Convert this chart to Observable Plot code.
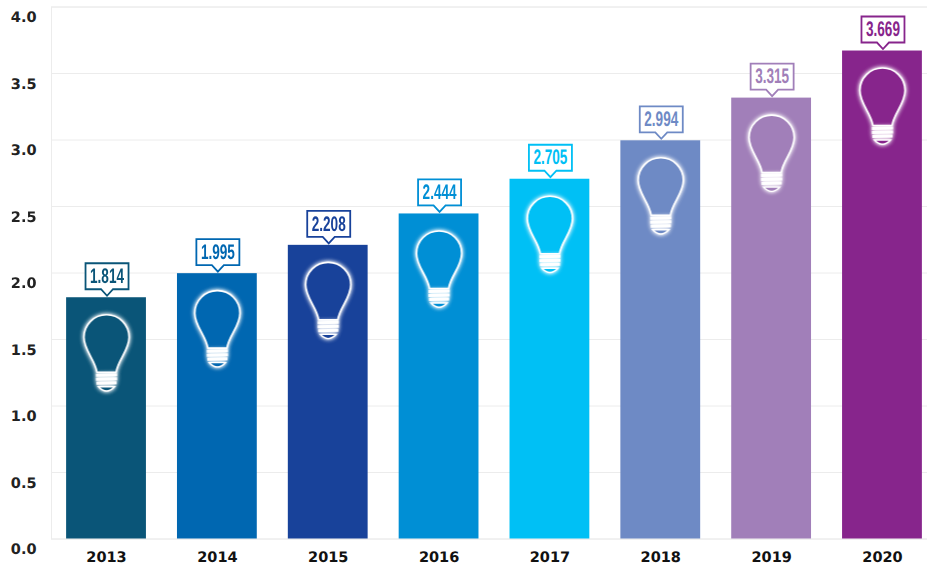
<!DOCTYPE html>
<html>
<head>
<meta charset="utf-8">
<script src="https://cdn.jsdelivr.net/npm/d3@7"></script>
<script src="https://cdn.jsdelivr.net/npm/@observablehq/plot@0.6"></script>
<style>
html,body{margin:0;padding:0;background:#fff;overflow:hidden}
svg{display:block}
svg text{text-rendering:geometricPrecision}
</style>
</head>
<body>
<div id="chart"></div>
<script>
const years = ["2013","2014","2015","2016","2017","2018","2019","2020"];
const values = [1.814,1.995,2.208,2.444,2.705,2.994,3.315,3.669];
const labels = ["1.814","1.995","2.208","2.444","2.705","2.994","3.315","3.669"];
const colors = ["#0a5578","#0067b1","#18429a","#008fd5","#00c0f5","#6e8ac5","#a17fb9","#87258c"];
const yTicks = [0,0.5,1,1.5,2,2.5,3,3.5,4];
const data = years.map((year,i)=>({year,value:values[i],label:labels[i]}));

const bulbShape = {draw(c){
  c.moveTo(-9.5,35);
  c.bezierCurveTo(-11,23,-22.5,13,-22.5,0);
  c.arc(0,0,22.5,Math.PI,0);
  c.bezierCurveTo(22.5,13,11,23,9.5,35);
  c.closePath();
}};
const baseShape = {draw(c){
  c.moveTo(-10.5,38); c.lineTo(10.5,37.5);
  c.moveTo(-10.5,42); c.lineTo(10.5,41.5);
  c.moveTo(-10,46); c.lineTo(10,45.5);
}};
const capShape = {draw(c){
  c.moveTo(-8,49.5);
  c.quadraticCurveTo(0,58,8,49.5);
  c.closePath();
}};
const calloutShape = {draw(c){
  c.moveTo(-21.5,-34.5);
  c.lineTo(21.5,-34.5);
  c.lineTo(21.5,-8.5);
  c.lineTo(6,-8.5);
  c.lineTo(0,-2);
  c.lineTo(-6,-8.5);
  c.lineTo(-21.5,-8.5);
  c.closePath();
}};

const glow = "drop-shadow(0 0 2px rgba(255,255,255,.9)) drop-shadow(0 0 1px rgba(255,255,255,.6))";
const axisFont = "'DejaVu Sans',sans-serif";
const chart = Plot.plot({
  width: 927,
  height: 567,
  marginLeft: 51,
  marginRight: 0,
  marginTop: 6.5,
  marginBottom: 28.5,
  style: {background:"#fff", fontFamily:axisFont},
  x: {domain: years, range:[50.6,937.4], paddingInner:0.28, paddingOuter:0.14, align:0.5, round:false, label:null},
  y: {domain:[0,4], label:null},
  color: {domain: years, range: colors},
  marks: [
    Plot.frame({stroke:"#ececec"}),
    Plot.ruleY(yTicks,{stroke:"#ececec"}),
    Plot.barY(data,{x:"year",y:"value",fill:"year"}),
    Plot.dot(data,{x:"year",y:"value",symbol:bulbShape,dy:39.5,fill:"year",stroke:"#fff",strokeWidth:1.6,imageFilter:glow}),
    Plot.dot(data,{x:"year",y:"value",symbol:baseShape,dy:39.5,fill:"none",stroke:"#fff",strokeWidth:3,imageFilter:glow}),
    Plot.dot(data,{x:"year",y:"value",symbol:capShape,dy:39.5,fill:"year",stroke:"#fff",strokeWidth:1.4,imageFilter:glow}),
    Plot.dot(data,{x:"year",y:"value",symbol:calloutShape,dx:0.5,fill:"#fff",stroke:"year",strokeWidth:1.8}),
    Plot.text(data,{x:"year",y:"value",text:"label",dx:0.5,dy:-21.5,fill:"year",fontSize:21,fontWeight:"bold",fontFamily:"'Liberation Sans',sans-serif"}),
    Plot.axisY(yTicks,{tickSize:0,tickPadding:15,dy:10.5,tickFormat:d3.format(".1f"),fontSize:14.5,fontWeight:"bold",fill:"#222",label:null}),
    Plot.axisX(years,{tickSize:0,tickPadding:13,fontSize:14.5,fontWeight:"bold",fill:"#111",label:null})
  ]
});
// Condense the callout labels: no narrow bold face is installed
d3.select(chart).selectAll('g[aria-label="text"] text').attr("textLength",34).attr("lengthAdjust","spacingAndGlyphs");
document.getElementById("chart").append(chart);
</script>
</body>
</html>
